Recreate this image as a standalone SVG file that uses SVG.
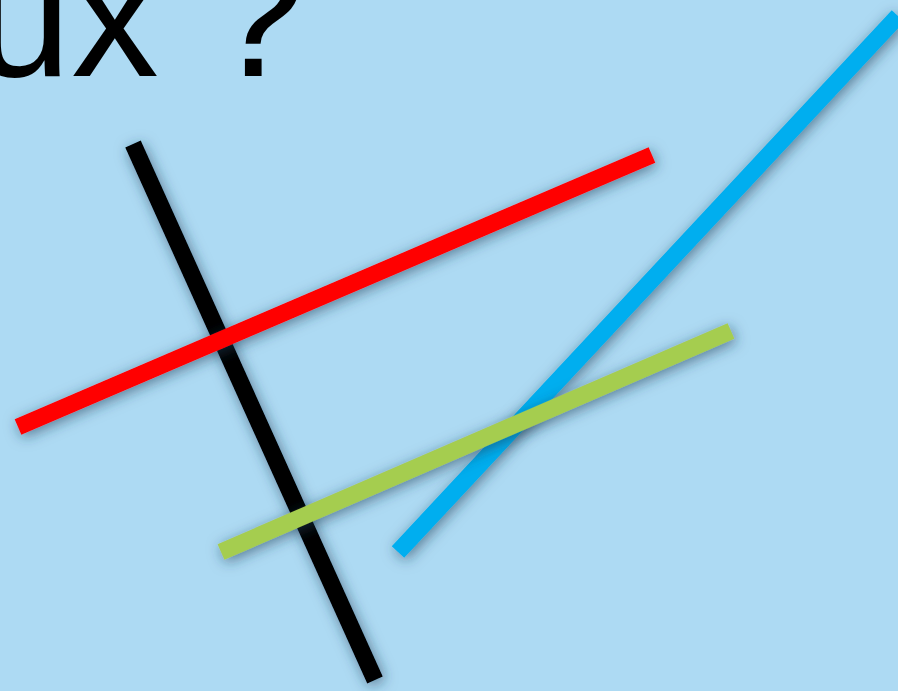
<svg xmlns="http://www.w3.org/2000/svg" width="898" height="691" viewBox="0 0 898 691">
<style>
.ln{stroke-width:17;stroke-linecap:butt;fill:none;filter:url(#sh)}
.t{font-family:"Liberation Sans",Arial,sans-serif;font-size:175px;fill:#000}
</style>
<defs>
<filter id="sh" x="-20%" y="-20%" width="140%" height="140%">
<feDropShadow dx="2" dy="3" stdDeviation="7" flood-color="#1a3a55" flood-opacity="0.6"/>
</filter>
</defs>
<rect width="898" height="691" fill="#ADDAF3"/>
<text class="t" x="-26" y="76">ux ?</text>
<g id="lines">
<line id="black" class="ln" x1="133" y1="144" x2="375" y2="680" stroke="#000"/>
<line id="red" class="ln" x1="18" y1="427" x2="652" y2="155" stroke="#FF0000"/>
<line id="blue" class="ln" x1="398" y1="552" x2="898" y2="16" stroke="#00AEEF"/>
<line id="green" class="ln" x1="221" y1="552" x2="731" y2="331" stroke="#A5CD50"/>
</g>
</svg>
